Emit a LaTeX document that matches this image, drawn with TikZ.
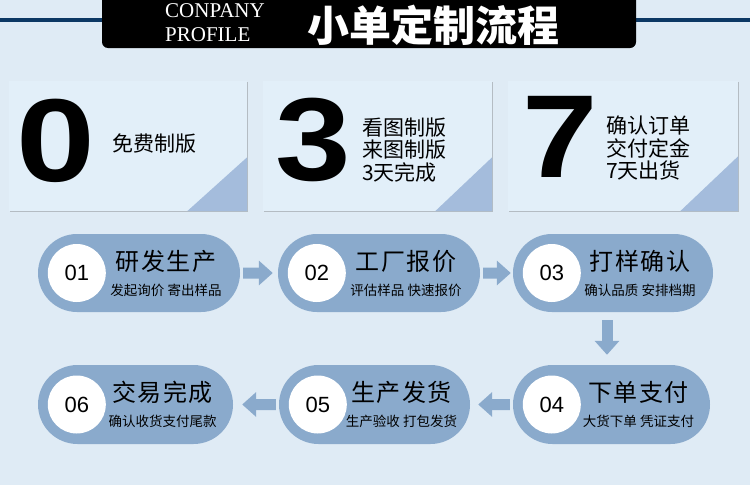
\documentclass[tikz,border=0pt]{standalone}
\usepackage{fontspec}
\setmainfont{Liberation Sans}
\newfontfamily\cnfont{Noto Sans CJK SC}
\newfontfamily\cnwide[LetterSpace=6]{Noto Sans CJK SC}
\newfontfamily\enserif{Liberation Serif}
\usepackage{graphicx}
\usetikzlibrary{arrows.meta,positioning,shapes.misc,shadows}
\definecolor{pagebg}{RGB}{223,235,245}
\definecolor{cardbg}{RGB}{226,239,249}
\definecolor{pillblue}{RGB}{138,170,204}
\definecolor{triblue}{RGB}{164,188,220}
\definecolor{navy}{RGB}{12,56,100}
\tikzset{
  hdrbox/.style={fill=black, rounded corners=6pt, minimum width=534pt, minimum height=58pt, inner sep=0pt},
  hdreng/.style={text=white, align=left, inner sep=0pt, font=\enserif\fontsize{21pt}{24.5pt}\selectfont},
  hdrtitle/.style={text=white, inner sep=0pt, font=\cnfont\bfseries\fontsize{42pt}{42pt}\selectfont},
  card/.style={fill=cardbg, minimum height=130pt, inner sep=0pt, drop shadow={shadow xshift=1.3pt, shadow yshift=-1.3pt, opacity=.35, fill=black!60}},
  corner/.style={fill=triblue},
  bignum/.style={inner sep=0pt, font=\fontsize{118pt}{118pt}\selectfont\bfseries},
  cardtext/.style={inner sep=0pt, align=left, font=\cnfont\fontsize{21pt}{22.5pt}\selectfont},
  pill/.style={rounded rectangle, fill=pillblue, minimum height=78pt, inner sep=0pt},
  numdot/.style={circle, fill=white, minimum size=58pt, inner sep=0pt, font=\fontsize{22pt}{22pt}\selectfont},
  pilltitle/.style={inner sep=0pt, font=\cnwide\fontsize{24pt}{24pt}\selectfont},
  pillsub/.style={inner sep=0pt, font=\cnfont\fontsize{13.5pt}{13.5pt}\selectfont},
  flowarrow/.style={-{Triangle[length=14pt,width=24pt]}, line width=11pt, draw=pillblue}
}
\begin{document}
\begin{tikzpicture}[x=1pt, y=-1pt]
\useasboundingbox[fill=pagebg] (0,0) rectangle (750,485);
% header
\draw[navy, line width=4pt] (0,20) -- (750,20);
\node[hdrbox] (hdr) at (369,19) {};
\node[hdreng, anchor=west] (eng) at (165,22.5) {CONPANY\\PROFILE};
\node[hdrtitle] (ttl) at (433,25) {小单定制流程};
% cards
\node[card, minimum width=238pt] (c1) at (128,146) {};
\fill[corner] (c1.south east) -- ++(-60,0) -- ++(60,-54) -- cycle;
\node[bignum] (d1) at (56,140.5) {\scalebox{1.2}[1]{0}};
\node[cardtext] (t1) at (154,144) {免费制版};
\node[card, minimum width=229pt] (c2) at (377.5,146) {};
\fill[corner] (c2.south east) -- ++(-57,0) -- ++(57,-54) -- cycle;
\node[bignum] (d2) at (313,140) {\scalebox{1.15}[1]{3}};
\node[cardtext, anchor=west] (t2) at (362,150) {看图制版\\来图制版\\3天完成};
\node[card, minimum width=230pt] (c3) at (623,146) {};
\fill[corner] (c3.south east) -- ++(-58,0) -- ++(58,-55) -- cycle;
\node[bignum] (d3) at (560,137) {\scalebox{1.15}[1]{7}};
\node[cardtext, anchor=west] (t3) at (606,148) {确认订单\\交付定金\\7天出货};
% steps
\node[pill, minimum width=202pt] (p1) at (139,273) {};
\node[pill, minimum width=202pt] (p2) at (379,273) {};
\node[pill, minimum width=200pt] (p3) at (613,273) {};
\node[pill, minimum width=197pt, minimum height=79pt] (p4) at (611.5,404.5) {};
\node[pill, minimum width=191pt, minimum height=79pt] (p5) at (374.5,404.5) {};
\node[pill, minimum width=195pt, minimum height=79pt] (p6) at (135.5,404.5) {};
\node[numdot] (n1) at ([xshift=39pt]p1.west) {01};
\node[numdot] (n2) at ([xshift=39pt]p2.west) {02};
\node[numdot] (n3) at ([xshift=39pt]p3.west) {03};
\node[numdot] (n4) at ([xshift=39pt]p4.west) {04};
\node[numdot] (n5) at ([xshift=39pt]p5.west) {05};
\node[numdot] (n6) at ([xshift=39pt]p6.west) {06};
\node[pilltitle] (h1) at ([xshift=27pt,yshift=12pt]p1.center) {研发生产};
\node[pillsub] (s1) at ([xshift=27pt,yshift=-17pt]p1.center) {发起询价 寄出样品};
\node[pilltitle] (h2) at ([xshift=27pt,yshift=12pt]p2.center) {工厂报价};
\node[pillsub] (s2) at ([xshift=27pt,yshift=-17pt]p2.center) {评估样品 快速报价};
\node[pilltitle] (h3) at ([xshift=27pt,yshift=12pt]p3.center) {打样确认};
\node[pillsub] (s3) at ([xshift=27pt,yshift=-17pt]p3.center) {确认品质 安排档期};
\node[pilltitle] (h4) at ([xshift=27pt,yshift=12pt]p4.center) {下单支付};
\node[pillsub] (s4) at ([xshift=27pt,yshift=-17pt]p4.center) {大货下单 凭证支付};
\node[pilltitle] (h5) at ([xshift=27pt,yshift=12pt]p5.center) {生产发货};
\node[pillsub] (s5) at ([xshift=27pt,yshift=-17pt]p5.center) {生产验收 打包发货};
\node[pilltitle] (h6) at ([xshift=27pt,yshift=12pt]p6.center) {交易完成};
\node[pillsub] (s6) at ([xshift=27pt,yshift=-17pt]p6.center) {确认收货支付尾款};
% arrows
\draw[flowarrow, shorten <=3pt, shorten >=5pt] (p1) -- (p2);
\draw[flowarrow, shorten <=3pt, shorten >=2pt] (p2) -- (p3);
\draw[flowarrow, shorten <=8pt, shorten >=10pt] ([xshift=-6pt]p3.south) -- ([xshift=-6pt]p3.south |- p4.north);
\draw[flowarrow, shorten <=3pt, shorten >=8pt] (p4) -- (p5);
\draw[flowarrow, shorten <=3pt, shorten >=9pt] (p5) -- (p6);
\end{tikzpicture}
\end{document}
